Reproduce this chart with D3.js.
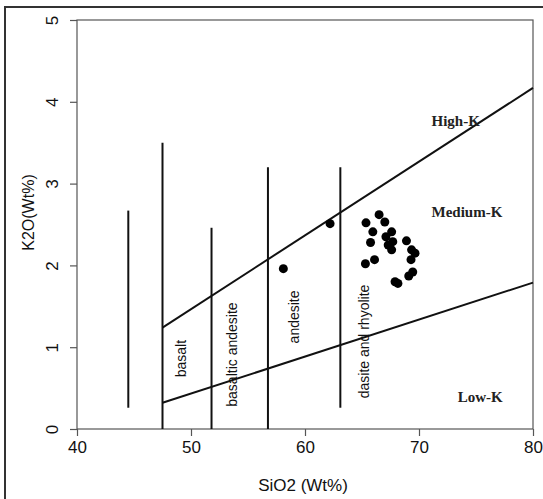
<!DOCTYPE html>
<html>
<head>
<meta charset="utf-8">
<script src="https://cdn.jsdelivr.net/npm/d3@7/dist/d3.min.js"></script>
<style>
  html, body { margin: 0; padding: 0; background: #fff; }
  svg { display: block; }
</style>
</head>
<body>
<script>
// Sample compositions (wt%)
const sio2 = [58.1, 62.2, 65.35, 66.5, 67.0, 65.95, 67.1, 67.6, 67.7, 67.3, 67.6, 65.75,
              68.9, 69.35, 69.65, 69.3, 66.1, 65.3, 69.45, 69.1, 67.9, 68.15];
const k2o  = [1.96, 2.51, 2.52, 2.62, 2.53, 2.41, 2.35, 2.41, 2.29, 2.25, 2.19, 2.28,
              2.30, 2.19, 2.15, 2.07, 2.07, 2.02, 1.92, 1.87, 1.80, 1.78];

// Series boundaries: [SiO2, K2O] at each end
const boundaryNames = ["high-medium", "medium-low"];
const boundaryStart = [[47.5, 1.24], [47.5, 0.32]];
const boundaryEnd   = [[80, 4.17], [80, 1.79]];

// Rock-type dividers: SiO2 position, K2O bottom, K2O top
const dividerSiO2   = [44.5, 47.5, 51.8, 56.75, 63.1];
const dividerBottom = [0.26, 0, 0, 0, 0.26];
const dividerTop    = [2.67, 3.5, 2.46, 3.2, 3.2];

// Rock-type labels (written vertically)
const rockNames = ["basalt", "basaltic andesite", "andesite", "dasite and rhyolite"];
const rockSiO2  = [49.1, 53.6, 59.0, 65.2];
const rockK2O   = [0.86, 0.91, 1.37, 1.07];

// Potassium series labels
const seriesNames = ["High-K", "Medium-K", "Low-K"];
const seriesSiO2  = [71.1, 71.1, 73.4];
const seriesK2O   = [3.77, 2.66, 0.40];

const xTicks = [40, 50, 60, 70, 80];
const yTicks = [0, 1, 2, 3, 4, 5];

const W = 543, H = 499;
const svg = d3.select("body").append("svg").attr("width", W).attr("height", H);

// Outer frame
svg.append("path")
  .attr("d", "M5,499 L5,7 L543,7")
  .attr("fill", "none").attr("stroke", "#333").attr("stroke-width", 2);

const x = d3.scaleLinear().domain([40, 80]).range([77, 533]);
const y = d3.scaleLinear().domain([0, 5]).range([429, 20]);

const axisColor = "#555";
const sans = "'Liberation Sans', Arial, sans-serif";
const serif = "'Liberation Serif', 'Times New Roman', serif";

// Plot box
svg.append("rect")
  .attr("x", x(40)).attr("y", y(5))
  .attr("width", x(80) - x(40)).attr("height", y(0) - y(5))
  .attr("fill", "none").attr("stroke", axisColor).attr("stroke-width", 1.2);

// X axis
const gx = svg.append("g").attr("transform", `translate(0,${y(0)})`)
  .call(d3.axisBottom(x).tickValues(xTicks).tickFormat(d3.format("d")).tickSize(7).tickPadding(5));
gx.select(".domain").remove();
gx.selectAll("line").attr("stroke", axisColor).attr("stroke-width", 1.2);
gx.selectAll("text").attr("font-family", sans).attr("font-size", 17).attr("fill", "#111");

// Y axis (labels parallel to the axis)
const gy = svg.append("g").attr("transform", `translate(${x(40)},0)`)
  .call(d3.axisLeft(y).tickValues(yTicks).tickFormat(d3.format("d")).tickSize(7));
gy.select(".domain").remove();
gy.selectAll("line").attr("stroke", axisColor).attr("stroke-width", 1.2);
gy.selectAll("text")
  .attr("font-family", sans).attr("font-size", 17).attr("fill", "#111")
  .attr("x", null)
  .attr("text-anchor", "middle")
  .attr("transform", "translate(-25,0) rotate(-90)")
  .attr("dy", "0.35em");

// Axis titles
svg.append("text")
  .attr("x", (x(40) + x(80)) / 2 - 2).attr("y", 491)
  .attr("text-anchor", "middle")
  .attr("font-family", sans).attr("font-size", 17).attr("fill", "#111")
  .text("SiO2 (Wt%)");
svg.append("text")
  .attr("transform", `translate(34,${(y(0) + y(5)) / 2 - 12}) rotate(-90)`)
  .attr("text-anchor", "middle")
  .attr("font-family", sans).attr("font-size", 16).attr("fill", "#111")
  .text("K2O(Wt%)");

// Series boundary lines
svg.selectAll(".boundary").data(boundaryNames).join("line")
  .attr("class", "boundary")
  .attr("x1", (d, i) => x(boundaryStart[i][0])).attr("y1", (d, i) => y(boundaryStart[i][1]))
  .attr("x2", (d, i) => x(boundaryEnd[i][0])).attr("y2", (d, i) => y(boundaryEnd[i][1]))
  .attr("stroke", "#111").attr("stroke-width", 2);

// Rock-type dividers
svg.selectAll(".divider").data(dividerSiO2).join("line")
  .attr("class", "divider")
  .attr("x1", d => x(d)).attr("x2", d => x(d))
  .attr("y1", (d, i) => y(dividerBottom[i])).attr("y2", (d, i) => y(dividerTop[i]))
  .attr("stroke", "#111").attr("stroke-width", 2);

// Rock-type labels
svg.selectAll(".rock").data(rockNames).join("text")
  .attr("class", "rock")
  .attr("transform", (d, i) => `translate(${x(rockSiO2[i])},${y(rockK2O[i])}) rotate(-90)`)
  .attr("text-anchor", "middle").attr("dy", "0.35em")
  .attr("font-family", sans).attr("font-size", 14).attr("fill", "#111")
  .text(d => d);

// Series labels
svg.selectAll(".series").data(seriesNames).join("text")
  .attr("class", "series")
  .attr("x", (d, i) => x(seriesSiO2[i])).attr("y", (d, i) => y(seriesK2O[i]))
  .attr("dy", "0.35em")
  .attr("font-family", serif).attr("font-weight", "bold").attr("font-size", 15).attr("fill", "#222")
  .text(d => d);

// Samples
svg.selectAll(".sample").data(sio2).join("circle")
  .attr("class", "sample")
  .attr("cx", d => x(d)).attr("cy", (d, i) => y(k2o[i]))
  .attr("r", 4.5).attr("fill", "#000");
</script>
</body>
</html>
